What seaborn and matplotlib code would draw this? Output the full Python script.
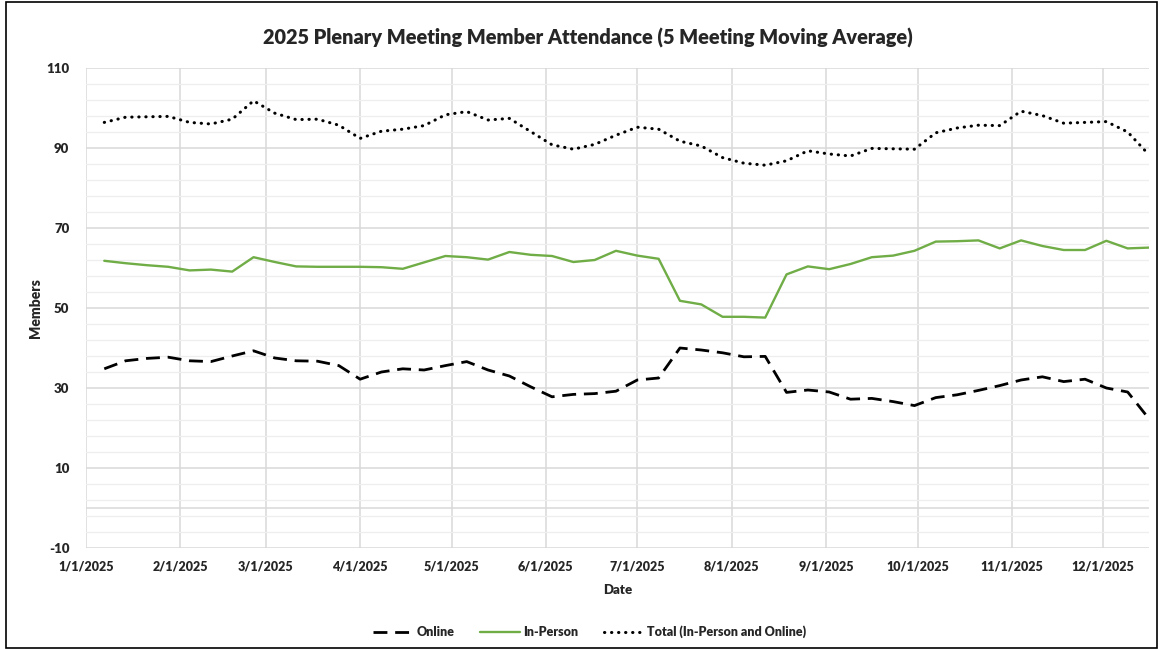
import matplotlib
matplotlib.use("Agg")
import matplotlib.pyplot as plt
import matplotlib.dates as mdates
import matplotlib.patches as patches
import numpy as np
import pandas as pd
import seaborn as sns

# weekly plenary meetings (5 meeting moving average)
meeting_dates = [
    "2025-01-07", "2025-01-14", "2025-01-21", "2025-01-28", "2025-02-04",
    "2025-02-11", "2025-02-18", "2025-02-25", "2025-03-04", "2025-03-11",
    "2025-03-18", "2025-03-25", "2025-04-01", "2025-04-08", "2025-04-15",
    "2025-04-22", "2025-04-29", "2025-05-06", "2025-05-13", "2025-05-20",
    "2025-05-27", "2025-06-03", "2025-06-10", "2025-06-17", "2025-06-24",
    "2025-07-01", "2025-07-08", "2025-07-15", "2025-07-22", "2025-07-29",
    "2025-08-05", "2025-08-12", "2025-08-19", "2025-08-26", "2025-09-02",
    "2025-09-09", "2025-09-16", "2025-09-23", "2025-09-30", "2025-10-07",
    "2025-10-14", "2025-10-21", "2025-10-28", "2025-11-04", "2025-11-11",
    "2025-11-18", "2025-11-25", "2025-12-02", "2025-12-09", "2025-12-16",
]

online = [
    34.8, 36.8, 37.4, 37.7, 36.8, 36.6, 38.0, 39.3, 37.5, 36.8,
    36.7, 35.6, 32.2, 34.0, 34.8, 34.5, 35.6, 36.6, 34.5, 33.0,
    30.3, 27.8, 28.4, 28.6, 29.2, 32.0, 32.5, 40.0, 39.5, 38.8,
    37.8, 37.9, 28.9, 29.5, 29.0, 27.2, 27.4, 26.6, 25.6, 27.6,
    28.3, 29.4, 30.6, 32.0, 32.8, 31.6, 32.2, 30.0, 29.0, 22.3,
]

in_person = [
    61.8, 61.2, 60.7, 60.3, 59.4, 59.6, 59.1, 62.7, 61.5, 60.4,
    60.3, 60.3, 60.3, 60.2, 59.8, 61.4, 63.0, 62.7, 62.1, 64.0,
    63.3, 63.0, 61.5, 62.0, 64.3, 63.1, 62.3, 51.8, 50.9, 47.8,
    47.8, 47.6, 58.4, 60.4, 59.7, 61.0, 62.7, 63.1, 64.3, 66.6,
    66.7, 66.9, 64.9, 66.9, 65.5, 64.5, 64.5, 66.8, 64.9, 65.1,
]

total = [
    96.4, 97.7, 97.8, 97.9, 96.4, 96.0, 97.2, 101.8, 98.7, 97.1,
    97.2, 95.7, 92.4, 94.2, 94.7, 95.6, 98.3, 99.1, 97.0, 97.4,
    94.1, 90.8, 89.7, 90.9, 93.2, 95.2, 94.7, 91.7, 90.5, 87.6,
    86.2, 85.7, 86.8, 89.3, 88.5, 88.0, 89.9, 89.8, 89.7, 93.8,
    95.0, 95.7, 95.6, 99.2, 98.1, 96.2, 96.4, 96.6, 94.0, 88.3,
]

y_ticks = [-10, 10, 30, 50, 70, 90, 110]

title = "2025 Plenary Meeting Member Attendance (5 Meeting Moving Average)"
green = "#70AD47"
grid_major = "#D9D9D9"
grid_minor = "#EEEEEE"
W = "heavy"

df = pd.DataFrame({
    "Date": pd.to_datetime(meeting_dates),
    "Online": online,
    "In-Person": in_person,
    "Total": total,
})

sns.set_theme(style="white")
plt.rcParams["font.family"] = ["Lato", "DejaVu Sans"]
plt.rcParams["font.weight"] = "bold"
plt.rcParams["axes.unicode_minus"] = False

fig = plt.figure(figsize=(11.61, 6.49), dpi=100)
ax = fig.add_axes([86 / 1161, 1 - 548 / 649, (1149 - 86) / 1161, (548 - 68) / 649])

ax.set_ylim(-10, 110)
ax.set_yticks(y_ticks)
ax.set_yticks(np.arange(-10, 111, 4), minor=True)
ax.grid(which="major", axis="y", color=grid_major, lw=1.1)
ax.grid(which="minor", axis="y", color=grid_minor, lw=0.9)
ax.grid(which="major", axis="x", color=grid_major, lw=1.1)
ax.axhline(0, color=grid_major, lw=1.1, zorder=0.5)
ax.set_axisbelow(True)

sns.lineplot(data=df, x="Date", y="Online", ax=ax, color="black", lw=2.0,
             linestyle=(0, (5, 2.8)), label="Online")
sns.lineplot(data=df, x="Date", y="In-Person", ax=ax, color=green, lw=1.7,
             label="In-Person")
sns.lineplot(data=df, x="Date", y="Total", ax=ax, color="black", lw=2.2,
             linestyle=(0, (0.1, 2.2)), dash_capstyle="round",
             label="Total (In-Person and Online)")

ax.set_xlim(pd.Timestamp("2025-01-01"), pd.Timestamp("2025-12-16"))
ax.xaxis.set_major_locator(mdates.MonthLocator())
ax.xaxis.set_major_formatter(mdates.DateFormatter("%-m/%-d/%Y"))

for s in ax.spines.values():
    s.set_visible(False)
ax.tick_params(axis="both", which="both", length=0)
ax.tick_params(axis="y", pad=12, labelsize=9.5)
ax.tick_params(axis="x", pad=9, labelsize=9)

ax.set_xlabel("Date", fontsize=9.5, fontweight=W, labelpad=8)
ax.set_ylabel("Members", fontsize=10, fontweight=W, labelpad=3)

handles, labels = ax.get_legend_handles_labels()
ax.get_legend().remove()
fig.legend(handles, labels, loc="center", bbox_to_anchor=(0.508, 1 - 632 / 649),
           ncol=3, frameon=False, handlelength=3.2,
           handletextpad=0.3, columnspacing=2.0, prop={"weight": W, "size": 9})

fig.text(0.506, 1 - 38 / 649, title, ha="center", va="center",
         fontsize=14.3, fontweight=W)

# chart border
fig.patches.append(patches.Rectangle((6 / 1161, 0.002), 1151 / 1161, 0.995,
                                     transform=fig.transFigure, fill=False,
                                     edgecolor="black", lw=1.2))

fig.canvas.draw()
for lab in ax.get_xticklabels() + ax.get_yticklabels():
    lab.set_fontweight(W)

fig.savefig("out.png", dpi=100)
